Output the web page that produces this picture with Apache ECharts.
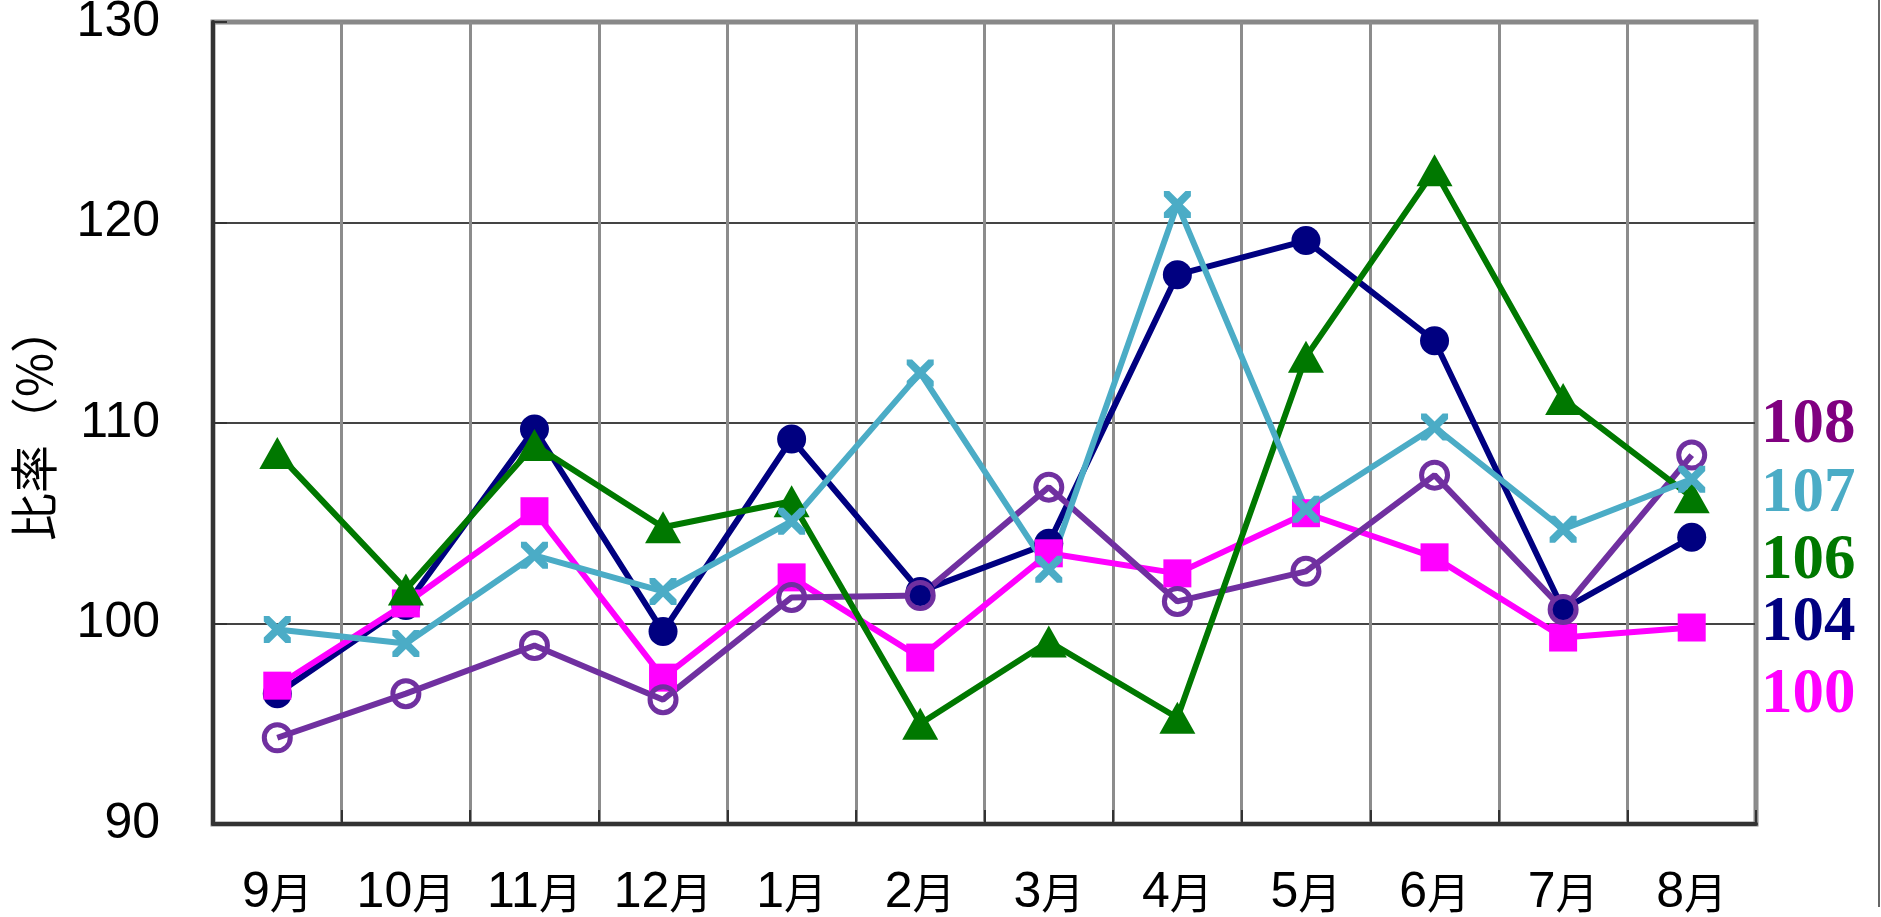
<!DOCTYPE html>
<html>
<head>
<meta charset="utf-8">
<script src="https://cdn.jsdelivr.net/npm/echarts@6/dist/echarts.min.js"></script>
<style>
html,body{margin:0;padding:0;background:#fff;}
#c{width:1881px;height:917px;}
</style>
</head>
<body>
<div id="c"></div>
<script>
const categories = ['9月','10月','11月','12月','1月','2月','3月','4月','5月','6月','7月','8月'];
const navyValues    = [96.5, 100.9, 109.7, 99.6, 109.2, 101.6, 104.0, 117.4, 119.1, 114.1, 100.7, 104.3];
const magentaValues = [96.9, 101.0, 105.6, 97.3, 102.3, 98.3, 103.5, 102.5, 105.5, 103.3, 99.3, 99.8];
const purpleValues  = [94.3, 96.5, 98.9, 96.2, 101.3, 101.4, 106.8, 101.1, 102.6, 107.4, 100.7, 108.4];
const greenValues   = [108.5, 101.7, 108.9, 104.8, 106.1, 95.0, 99.1, 95.3, 113.3, 122.6, 111.2, 106.3];
const cyanValues    = [99.7, 99.0, 103.4, 101.6, 105.1, 112.5, 102.7, 120.9, 105.7, 109.8, 104.7, 107.2];
const sideLabels = ['108', '107', '106', '104', '100'];
const sideColors = ['#800080', '#4BACC6', '#007800', '#000080', '#FF00FF'];
const yMin = 90, yMax = 130, yStep = 10;

const chart = echarts.init(document.getElementById('c'), null, {renderer: 'canvas'});
const digitFont = "'Liberation Sans Narrow', 'Liberation Sans', Arial, sans-serif";
const cjkFont = "'Noto Sans CJK JP', 'Noto Sans CJK SC', sans-serif";
const crossPath = 'path://M0,0 L4,0 L10,6 L16,0 L20,0 L20,4 L14,10 L20,16 L20,20 L16,20 L10,14 L4,20 L0,20 L0,16 L6,10 L0,4 Z';

function lineSeries(name, data, color, symbol, size, extra) {
  return Object.assign({
    name: name,
    type: 'line',
    data: data,
    symbol: symbol,
    symbolSize: size,
    showAllSymbol: true,
    animation: false,
    lineStyle: {color: color, width: 6},
    itemStyle: {color: color}
  }, extra || {});
}

const sideGraphics = sideLabels.map((t, i) => ({
  type: 'text',
  left: 1761,
  top: [394, 463, 530, 592, 664][i],
  style: {
    text: t,
    fill: sideColors[i],
    font: "bold 63px 'Liberation Serif', 'DejaVu Serif', serif"
  }
}));

chart.setOption({
  animation: false,
  backgroundColor: '#fff',
  grid: {
    left: 213, right: 125, top: 22, bottom: 93,
    outerBoundsMode: 'none',
    containLabel: false,
    show: true, borderColor: '#888', borderWidth: 5, backgroundColor: 'transparent'
  },
  xAxis: {
    type: 'category',
    data: categories,
    boundaryGap: true,
    axisLine: {lineStyle: {color: '#333', width: 4}},
    axisTick: {show: true, inside: true, length: 14, lineStyle: {color: '#333', width: 2}},
    axisLabel: {
      interval: 0,
      margin: 44,
      color: '#000',
      formatter: function (v) {
        const num = v.replace('月', '');
        return '{d|' + num + '}{m|月}';
      },
      rich: {
        d: {fontSize: 50, fontFamily: digitFont, color: '#000'},
        m: {fontSize: 43, fontFamily: cjkFont, color: '#000'}
      }
    },
    splitLine: {show: true, lineStyle: {color: '#8c8c8c', width: 3}}
  },
  yAxis: {
    type: 'value',
    min: yMin, max: yMax, interval: yStep,
    name: '比率（%）',
    nameLocation: 'middle',
    nameRotate: 90,
    nameGap: 155,
    nameTextStyle: {fontSize: 48, color: '#000', fontFamily: cjkFont},
    axisLine: {show: true, lineStyle: {color: '#333', width: 4}},
    axisTick: {show: true, inside: true, length: 14, lineStyle: {color: '#333', width: 2}},
    axisLabel: {fontSize: 50, color: '#000', fontFamily: digitFont, margin: 53},
    splitLine: {show: true, lineStyle: {color: ['#444', '#444', '#444', '#444', 'rgba(0,0,0,0)'], width: 2}}
  },
  series: [
    lineSeries('navy', navyValues, '#000080', 'circle', 29),
    lineSeries('magenta', magentaValues, '#FF00FF', 'rect', 28),
    lineSeries('purple', purpleValues, '#7030A0', 'circle', 26,
      {itemStyle: {color: 'rgba(255,255,255,0)', borderColor: '#7030A0', borderWidth: 5}}),
    lineSeries('green', greenValues, '#007800', 'triangle', [36, 32]),
    lineSeries('cyan', cyanValues, '#4BACC6', crossPath, 27)
  ],
  graphic: sideGraphics.concat([{
    type: 'line',
    shape: {x1: 1879, y1: 0, x2: 1879, y2: 907},
    style: {stroke: '#666', lineWidth: 2}
  }])
});
</script>
</body>
</html>
